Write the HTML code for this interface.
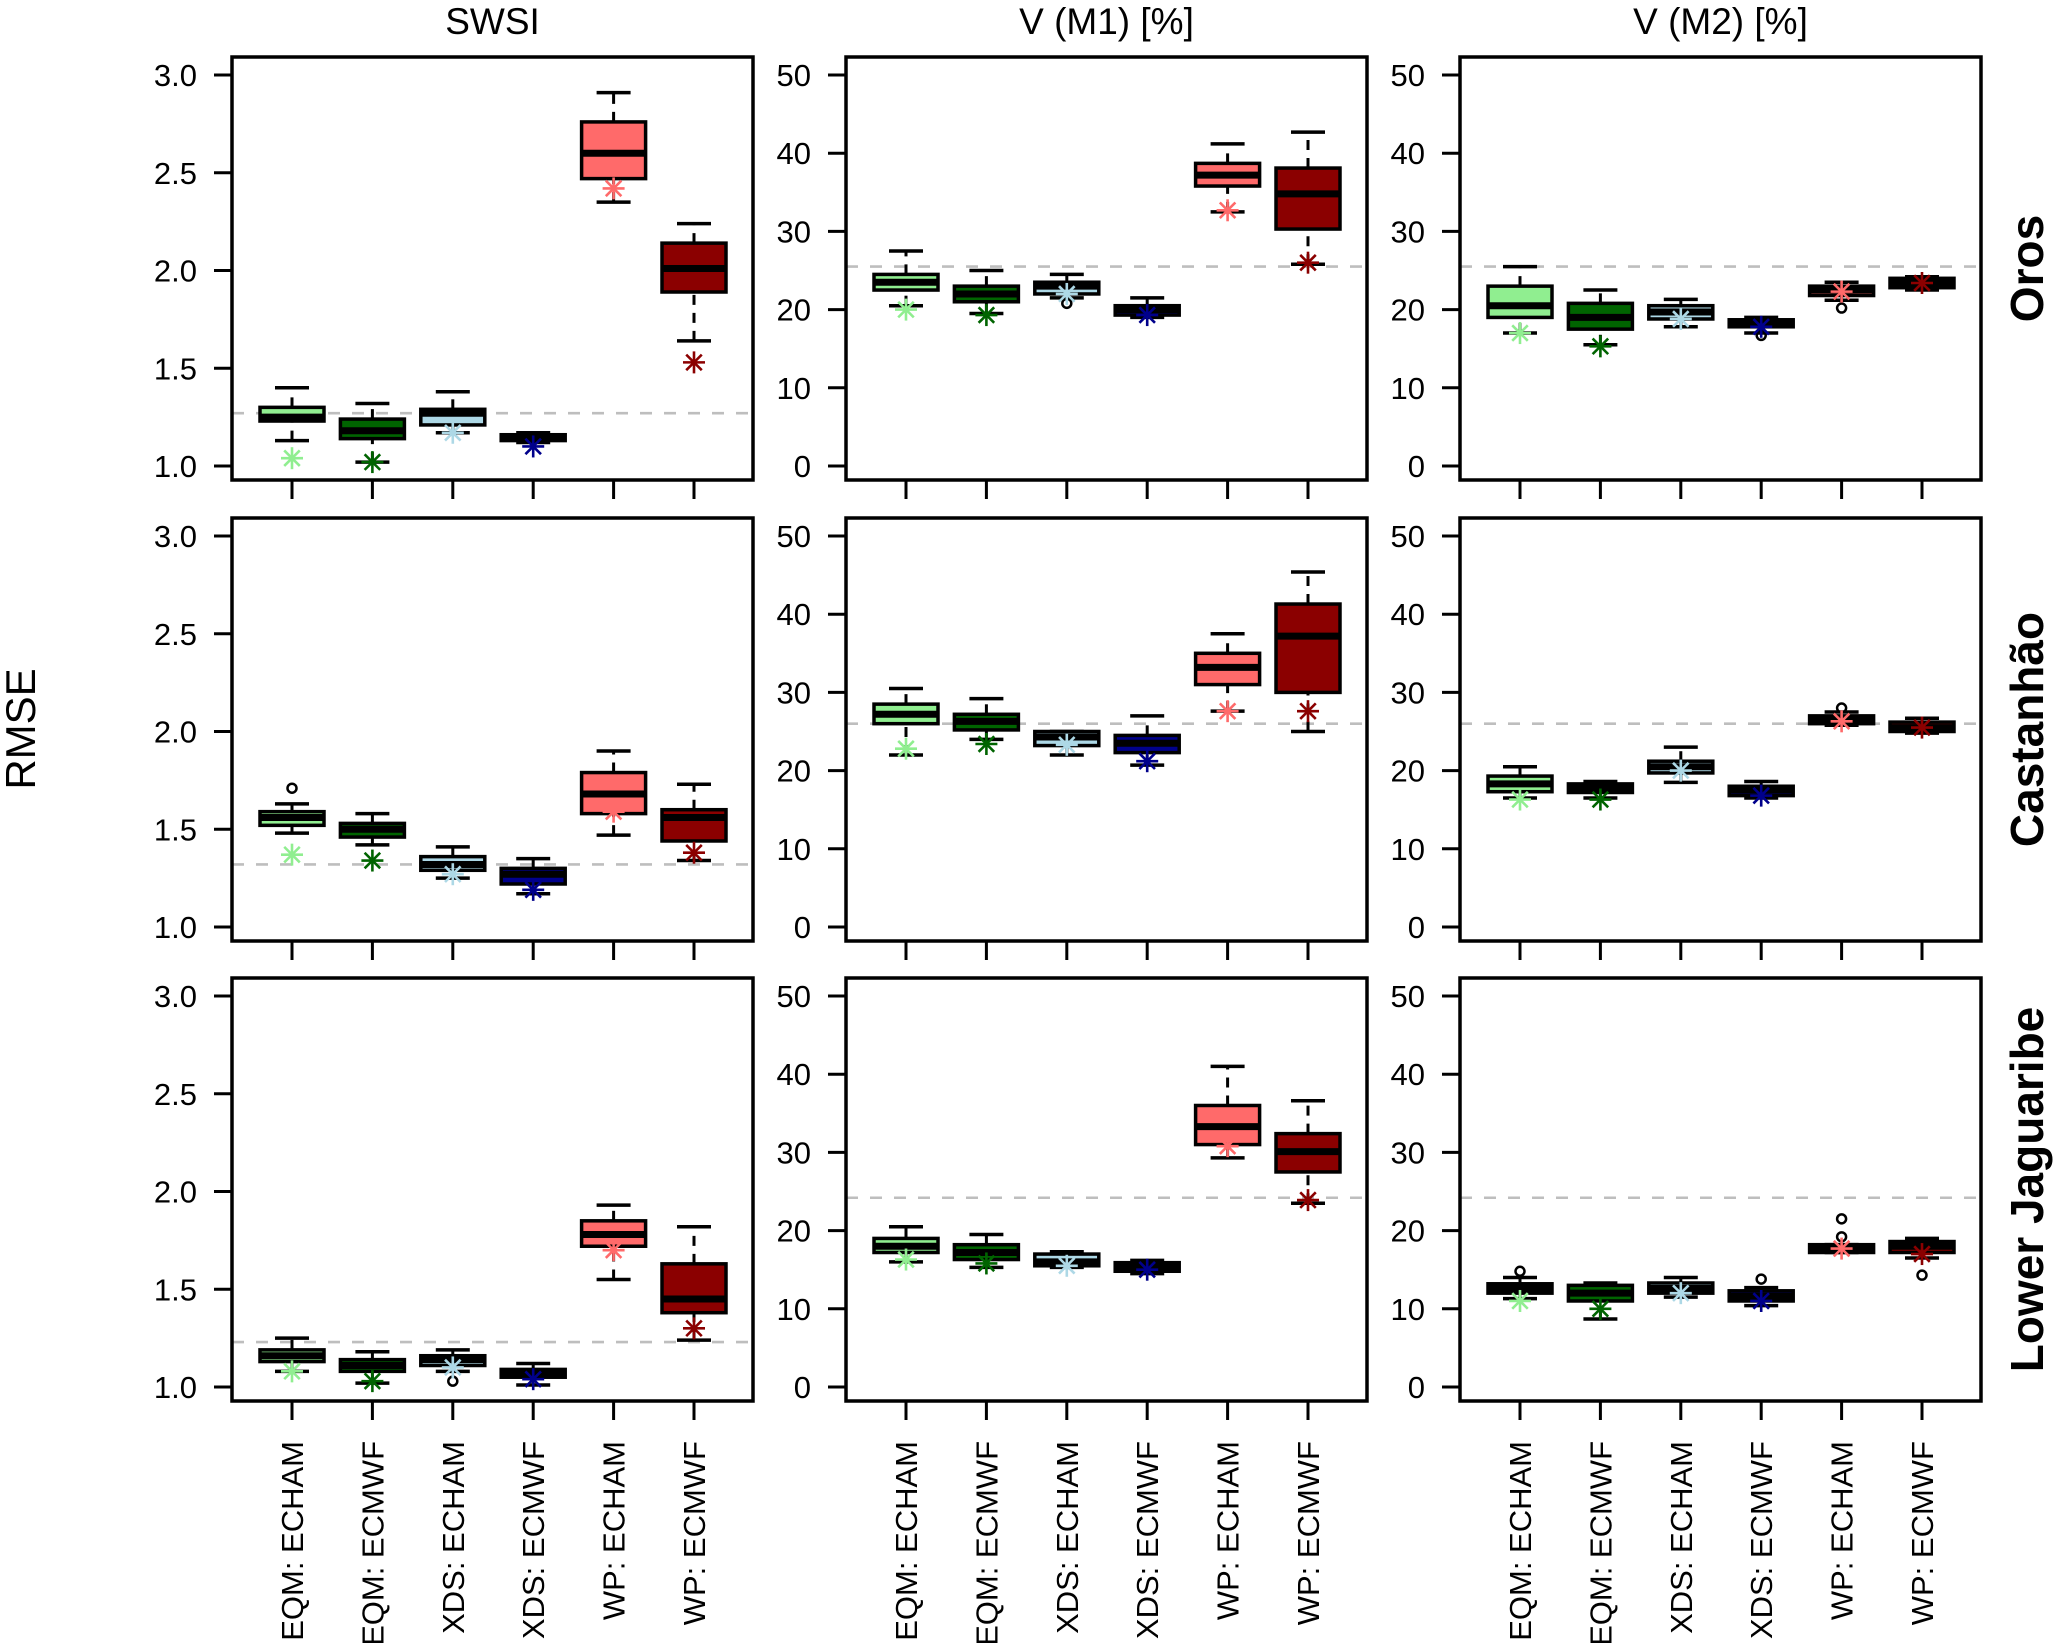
<!DOCTYPE html>
<html><head><meta charset="utf-8"><style>
html,body{margin:0;padding:0;background:#fff}
svg{display:block;font-family:"Liberation Sans",Arial,sans-serif}
</style></head><body>
<svg id="chart" width="2067" height="1643" viewBox="0 0 2067 1643"></svg>
<script>
const categories = ["EQM: ECHAM","EQM: ECMWF","XDS: ECHAM","XDS: ECMWF","WP: ECHAM","WP: ECMWF"];
const colors = ["#90EE90","#006400","#ADD8E6","#00008B","#FF6A6A","#8B0000"];
const columnTitles = ["SWSI","V (M1) [%]","V (M2) [%]"];
const rowTitles = ["Oros","Castanhão","Lower Jaguaribe"];
const swsiTicks = [1.0,1.5,2.0,2.5,3.0];
const volTicks = [0,10,20,30,40,50];
// each box: [whiskerLow, q1, median, q3, whiskerHigh]
const boxesSWSI = [
 [[1.13,1.23,1.25,1.30,1.40],[1.02,1.14,1.18,1.24,1.32],[1.17,1.21,1.27,1.29,1.38],[1.12,1.13,1.15,1.16,1.17],[2.35,2.47,2.60,2.76,2.91],[1.64,1.89,2.01,2.14,2.24]],
 [[1.48,1.52,1.56,1.59,1.63],[1.42,1.46,1.50,1.53,1.58],[1.25,1.29,1.32,1.36,1.41],[1.17,1.22,1.27,1.30,1.35],[1.47,1.58,1.68,1.79,1.90],[1.34,1.44,1.56,1.60,1.73]],
 [[1.08,1.13,1.16,1.19,1.25],[1.02,1.08,1.11,1.14,1.18],[1.08,1.11,1.14,1.16,1.19],[1.01,1.05,1.07,1.09,1.12],[1.55,1.72,1.78,1.85,1.93],[1.24,1.38,1.45,1.63,1.82]]
];
const boxesM1 = [
 [[20.5,22.5,23.5,24.5,27.5],[19.5,21,22,23,25],[21.5,22,23,23.5,24.5],[19,19.3,20,20.5,21.5],[32.5,35.8,37.2,38.7,41.2],[25.8,30.3,34.8,38.1,42.7]],
 [[22,26,27.2,28.5,30.5],[24,25.2,26.3,27.2,29.2],[22,23.2,24.3,25,25],[20.7,22.3,23.5,24.5,27],[27.6,31,33.2,35,37.5],[25,30,37.2,41.3,45.4]],
 [[16,17.2,18,19,20.5],[15.3,16.3,17.2,18.2,19.5],[15.3,15.5,16,17,17.3],[14.5,14.8,15.3,15.9,16.2],[29.3,31,33.3,36,41],[23.5,27.5,30.1,32.4,36.6]]
];
const boxesM2 = [
 [[17,19,20.5,23,25.5],[15.5,17.5,19,20.8,22.5],[17.8,18.8,19.7,20.5,21.3],[17,17.8,18.3,18.7,19],[21.2,21.8,22.5,23,23.5],[22.5,22.8,23.4,24,24.2]],
 [[16.5,17.3,18.3,19.3,20.5],[16.5,17.2,17.7,18.3,18.6],[18.5,19.7,20.5,21.2,23],[16.5,16.8,17.5,18,18.6],[25.8,26,26.5,27,27.5],[24.8,25,25.5,26.2,26.7]],
 [[11.3,12,12.6,13.2,14],[8.7,11,12,13,13.3],[11.5,12,12.6,13.3,14],[10.4,11,11.6,12.3,12.7],[17.2,17.2,17.7,18.2,18.2],[16.5,17.2,18,18.6,19]]
];
const starsSWSI = [[1.04,1.02,1.17,1.10,2.42,1.53],[1.37,1.34,1.27,1.19,1.59,1.38],[1.08,1.03,1.10,1.04,1.70,1.30]];
const starsM1 = [[20,19.3,22,19.3,32.7,26],[22.8,23.4,23.3,21.2,27.6,27.6],[16.3,15.8,15.5,15,30.8,23.9]];
const starsM2 = [[17,15.3,18.8,17.8,22.3,23.4],[16.3,16.3,20,16.8,26.3,25.5],[11,10,12,11,17.7,17]];
// outliers: [box index, value]
const outSWSI = [[],[[0,1.71]],[[2,1.03]]];
const outM1 = [[[2,20.8]],[],[]];
const outM2 = [[[3,16.7],[4,20.2]],[[4,28]],[[0,14.8],[3,13.8],[4,19.2],[4,21.5],[5,14.3]]];
const refSWSI = [1.27,1.32,1.23];
const refM1 = [25.5,26,24.2];
const refM2 = [25.5,26,24.2];

const svg = document.getElementById('chart');
const NS = 'http://www.w3.org/2000/svg';
function mk(tag, attrs, parent){const e=document.createElementNS(NS,tag);for(const k in attrs)e.setAttribute(k,attrs[k]);(parent||svg).appendChild(e);return e;}

const colLeft=[232,846,1460], panelW=521;
const rowTop=[57,518,978], panelH=423;
const tickTopOff=18, tickBotOff=409;
const catX0=60, catStep=80.4;

const colData=[
 {ticks:swsiTicks,boxes:boxesSWSI,stars:starsSWSI,outs:outSWSI,refs:refSWSI,lo:1,hi:3,fmt:v=>v.toFixed(1)},
 {ticks:volTicks,boxes:boxesM1,stars:starsM1,outs:outM1,refs:refM1,lo:0,hi:50,fmt:v=>String(v)},
 {ticks:volTicks,boxes:boxesM2,stars:starsM2,outs:outM2,refs:refM2,lo:0,hi:50,fmt:v=>String(v)}
];

columnTitles.forEach((t,c)=>{
 const e=mk('text',{x:colLeft[c]+panelW/2,y:34,'text-anchor':'middle','font-size':37});
 e.textContent=t;
 
 
});
rowTitles.forEach((t,r)=>{
 const cy=rowTop[r]+panelH/2;
 const e=mk('text',{x:0,y:0,transform:`translate(2031,${cy}) rotate(-90)`,'text-anchor':'middle','dominant-baseline':'middle','font-size':46,'font-weight':'bold'});
 e.textContent=t;
 
 
});
{
 const e=mk('text',{x:0,y:0,transform:'translate(24,729) rotate(-90)','text-anchor':'middle','dominant-baseline':'middle','font-size':42});
 e.textContent='RMSE';
 
 
}

function star(g,x,y,col){
 const r=11;
 for(const a of [0,45,90,135]){
  const rad=a*Math.PI/180,dx=r*Math.cos(rad),dy=r*Math.sin(rad);
  mk('line',{x1:x-dx,y1:y-dy,x2:x+dx,y2:y+dy,stroke:col,'stroke-width':2.6},g);
 }
}

for(let r=0;r<3;r++){
 for(let c=0;c<3;c++){
  const d=colData[c];
  const L=colLeft[c],T=rowTop[r];
  const yPix=v=>T+tickBotOff-(v-d.lo)/(d.hi-d.lo)*(tickBotOff-tickTopOff);
  const xPix=i=>L+catX0+i*catStep;
  const g=mk('g',{});
  
  
  d.ticks.forEach(v=>{
   const y=yPix(v);
   mk('line',{x1:L-18,y1:y,x2:L,y2:y,stroke:'#000','stroke-width':3},g);
   const t=mk('text',{x:L-35,y:y+11,'text-anchor':'end','font-size':31},g);
   t.textContent=d.fmt(v);
   
   
  });
  categories.forEach((cat,i)=>{
   const x=xPix(i);
   mk('line',{x1:x,y1:T+panelH,x2:x,y2:T+panelH+19,stroke:'#000','stroke-width':3},g);
   if(r===2){
    const t=mk('text',{x:0,y:0,transform:`translate(${x+11},${T+panelH+40}) rotate(-90)`,'text-anchor':'end','font-size':31},g);
    t.textContent=cat;
    
    
   }
  });
  const ry=yPix(d.refs[r]);
  const ref=mk('line',{x1:L,y1:ry,x2:L+panelW,y2:ry,stroke:'#bebebe','stroke-width':2.6,'stroke-dasharray':'12,12'},g);
  
  
  d.boxes[r].forEach((b,i)=>{
   const x=xPix(i),hw=32,cw=17;
   const bg=mk('g',{},g);
   
   
   mk('line',{x1:x,y1:yPix(b[0]),x2:x,y2:yPix(b[1]),stroke:'#000','stroke-width':3,'stroke-dasharray':'10,8'},bg);
   mk('line',{x1:x,y1:yPix(b[3]),x2:x,y2:yPix(b[4]),stroke:'#000','stroke-width':3,'stroke-dasharray':'10,8'},bg);
   mk('line',{x1:x-cw,y1:yPix(b[0]),x2:x+cw,y2:yPix(b[0]),stroke:'#000','stroke-width':3.5},bg);
   mk('line',{x1:x-cw,y1:yPix(b[4]),x2:x+cw,y2:yPix(b[4]),stroke:'#000','stroke-width':3.5},bg);
   mk('rect',{x:x-hw,y:yPix(b[3]),width:2*hw,height:Math.max(0.5,yPix(b[1])-yPix(b[3])),fill:colors[i],stroke:'#000','stroke-width':3.5},bg);
   mk('line',{x1:x-hw,y1:yPix(b[2]),x2:x+hw,y2:yPix(b[2]),stroke:'#000','stroke-width':7},bg);
  });
  d.outs[r].forEach(o=>{
   const c2=mk('circle',{cx:xPix(o[0]),cy:yPix(o[1]),r:4.5,fill:'none',stroke:'#000','stroke-width':2.5},g);
   
   
  });
  d.stars[r].forEach((v,i)=>{
   const sg=mk('g',{},g);
   
   
   star(sg,xPix(i),yPix(v),colors[i]);
  });
  const frame=mk('rect',{x:L,y:T,width:panelW,height:panelH,fill:'none',stroke:'#000','stroke-width':3.5},g);
  
  
 }
}
</script>
</body></html>
